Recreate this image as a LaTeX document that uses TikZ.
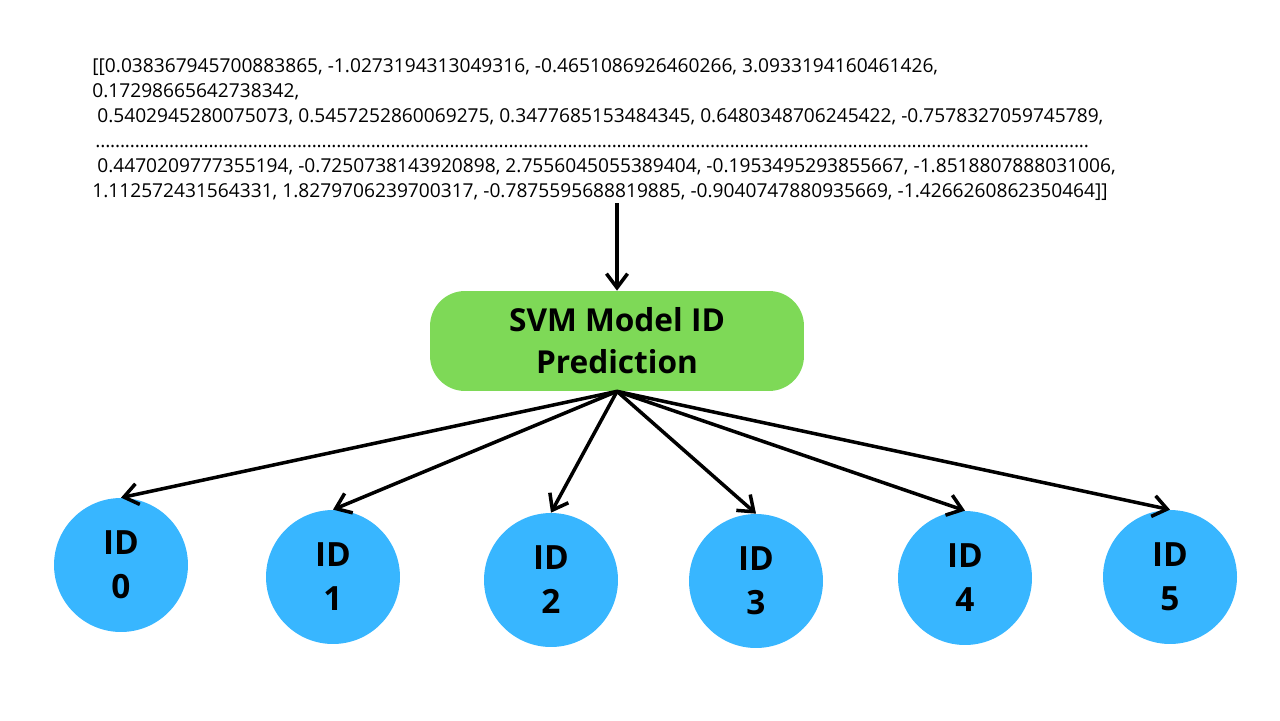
\documentclass[tikz,border=0pt]{standalone}
\usepackage{fontspec}
\setmainfont{Open Sans}
\usetikzlibrary{arrows.meta, positioning, calc}
\definecolor{svm_green}{RGB}{126, 217, 87}
\definecolor{id_blue}{RGB}{56, 182, 255}

\begin{document}
\begin{tikzpicture}[
    x=0.02cm, y=-0.02cm,
    % Node styles
    model/.style={
        rectangle,
        fill=#1,
        rounded corners=0.7cm,
        minimum width=7.48cm,
        minimum height=2cm,
        align=center,
        font=\fontsize{18}{24}\selectfont\bfseries
    },
    idnode/.style={
        circle,
        fill=#1,
        minimum size=2.68cm,
        inner sep=0pt,
        align=center,
        font=\fontsize{19}{25}\selectfont\bfseries
    },
    arrow/.style={
        -{Straight Barb[length=8pt, width=12pt, line width=2pt]},
        line width=2pt,
        #1
    }
]

\useasboundingbox (0,0) rectangle (1280,720);

% Position nodes
\node[anchor=north west, align=left, inner sep=0pt,
      font=\fontsize{10.9}{14.3}\selectfont] (data) at (92,58) {%
[[0.038367945700883865, -1.0273194313049316, -0.4651086926460266, 3.0933194160461426,\\
0.17298665642738342,\\
\ 0.5402945280075073, 0.5457252860069275, 0.3477685153484345, 0.6480348706245422, -0.7578327059745789,\\
\,\hbox to 19.9cm{\leaders\hbox to 2.8pt{\hss.\hss}\hfill}\\
\ 0.4470209777355194, -0.7250738143920898, 2.7556045055389404, -0.1953495293855667, -1.8518807888031006,\\
1.112572431564331, 1.8279706239700317, -0.7875595688819885, -0.9040747880935669, -1.4266260862350464]]};

\node[model=svm_green] (svm) at (617,341) {SVM Model ID\\Prediction};

\node[idnode=id_blue] (id0) at (121,565) {ID\\0};
\node[idnode=id_blue] (id1) at (333,577) {ID\\1};
\node[idnode=id_blue] (id2) at (551,580) {ID\\2};
\node[idnode=id_blue] (id3) at (756,581) {ID\\3};
\node[idnode=id_blue] (id4) at (965,578) {ID\\4};
\node[idnode=id_blue] (id5) at (1170,577) {ID\\5};

% draw arrows
\draw[arrow=black] ($(data.south -| svm.north)+(0,2)$) -- (svm.north);

\foreach \n in {0,...,5}
    \draw[arrow=black] (svm.south) -- (id\n.north);

\end{tikzpicture}
\end{document}
